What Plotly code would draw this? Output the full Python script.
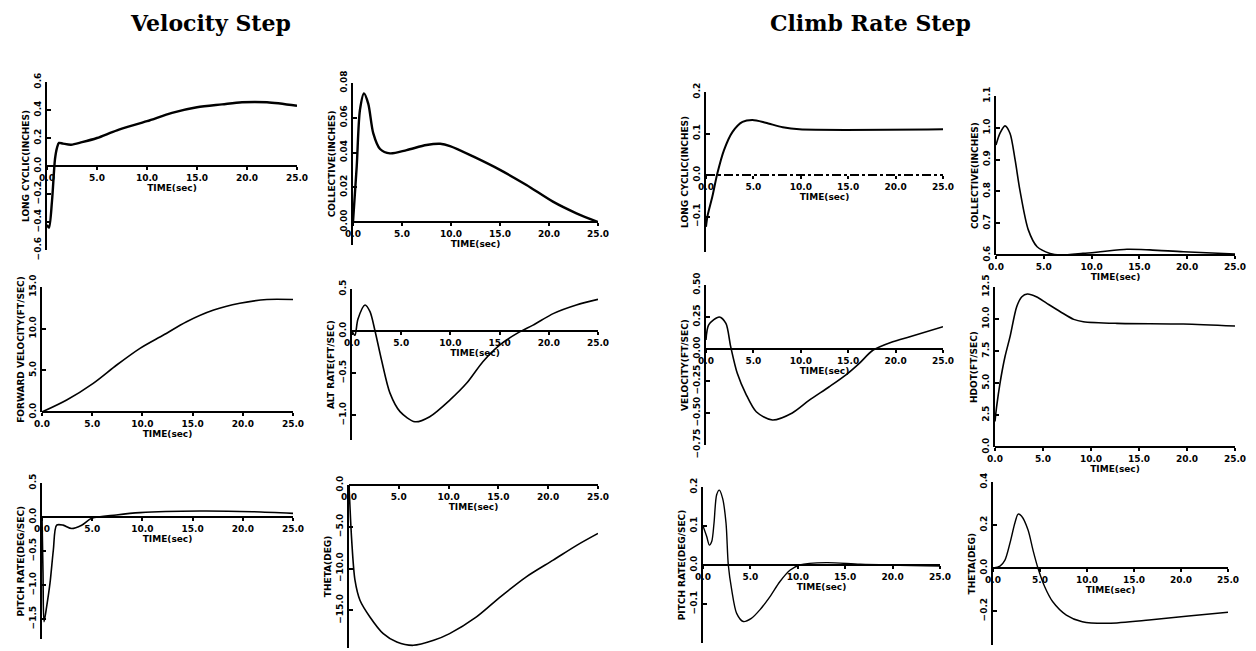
import plotly.graph_objects as go

# page has an 8px body margin: figure is sized to fit the window inside it
PAGE_W, PAGE_H = 1256, 651
OFF = 8
W, H = PAGE_W - OFF, PAGE_H - OFF

# ---------------- data ----------------
# Velocity step
vs_cyc_t = [0, 0.2, 0.5, 0.8, 1.0, 1.2, 1.6, 2.4, 3.5, 5.0, 7.0, 10.0, 12.5, 15.0, 17.5, 19.5, 22.0, 25.0]
vs_cyc_v = [-0.42, -0.44, -0.25, 0.05, 0.13, 0.165, 0.16, 0.152, 0.17, 0.20, 0.255, 0.32, 0.38, 0.42, 0.44, 0.455, 0.455, 0.43]

vs_col_t = [0, 0.38, 0.71, 1.12, 1.56, 2.07, 2.76, 3.78, 5.48, 7.5, 8.9, 9.9, 12.3, 15.0, 17.7, 20.4, 22.8, 25.0]
vs_col_v = [0, 0.032, 0.0645, 0.074, 0.068, 0.051, 0.042, 0.0395, 0.0414, 0.0443, 0.045, 0.0437, 0.0376, 0.030, 0.0213, 0.0117, 0.005, 0.0]

vs_vel_t = [0, 2.46, 5.1, 7.44, 9.76, 12.1, 14.4, 17.1, 19.7, 22.4, 25.0]
vs_vel_v = [0, 1.44, 3.44, 5.64, 7.64, 9.24, 10.84, 12.24, 13.05, 13.5, 13.5]

vs_alt_t = [0, 0.3, 0.6, 1.32, 1.83, 2.34, 3.0, 3.86, 4.88, 6.4, 7.9, 9.96, 11.66, 13.3, 15.0, 16.9, 18.4, 20.5, 22.8, 25.0]
vs_alt_v = [0, -0.05, 0.14, 0.31, 0.23, 0.0, -0.345, -0.74, -0.96, -1.08, -1.02, -0.82, -0.62, -0.365, -0.167, -0.02, 0.07, 0.21, 0.31, 0.377]

vs_q_t = [0, 0.1, 0.2, 0.46, 0.8, 1.13, 1.46, 2.1, 2.96, 3.95, 4.95, 7.4, 9.76, 15.7, 21.0, 25.0]
vs_q_v = [0, -0.82, -1.54, -1.32, -0.97, -0.485, -0.12, -0.12, -0.17, -0.12, -0.02, 0.03, 0.064, 0.088, 0.078, 0.054]

vs_th_t = [0, 0.27, 0.6, 1.1, 2.1, 3.44, 4.8, 6.45, 8.5, 10.1, 12.8, 15.2, 17.8, 20.5, 22.9, 25.0]
vs_th_v = [0, -6.6, -11.4, -13.8, -15.8, -17.8, -18.8, -19.2, -18.6, -17.8, -15.8, -13.4, -11.0, -9.0, -7.2, -5.8]

# Climb rate step
cs_cyc_t = [0, 0.15, 0.67, 1.2, 1.9, 2.8, 3.85, 4.9, 6.3, 8.1, 9.85, 25.0]
cs_cyc_v = [-0.125, -0.10, -0.052, 0.004, 0.06, 0.104, 0.128, 0.1325, 0.126, 0.115, 0.11, 0.11]

cs_col_t = [0, 0.42, 0.94, 1.46, 2.0, 2.5, 3.38, 4.3, 5.65, 6.7, 9.1, 10.9, 13.7, 16.1, 19.6, 25.0]
cs_col_v = [0.946, 0.983, 1.006, 0.983, 0.899, 0.804, 0.679, 0.626, 0.605, 0.600, 0.605, 0.61, 0.618, 0.616, 0.61, 0.603]

cs_vel_t = [0, 0.3, 1.4, 2.1, 2.6, 3.3, 4.2, 5.3, 7.0, 9.1, 10.9, 13.0, 14.8, 16.2, 17.6, 19.7, 21.5, 25.0]
cs_vel_v = [0.07, 0.19, 0.25, 0.20, 0.02, -0.19, -0.35, -0.49, -0.555, -0.50, -0.40, -0.295, -0.20, -0.11, -0.01, 0.057, 0.096, 0.174]

cs_hdot_t = [0, 0.17, 0.52, 1.04, 1.56, 2.26, 2.8, 3.37, 4.3, 5.4, 6.8, 8.2, 9.2, 12.7, 19.6, 25.0]
cs_hdot_v = [2.0, 3.15, 4.98, 7.05, 8.6, 10.96, 11.74, 11.95, 11.74, 11.22, 10.57, 9.97, 9.79, 9.66, 9.61, 9.45]

cs_q_t = [0, 0.39, 0.67, 0.92, 1.16, 1.44, 1.72, 2.07, 2.43, 2.67, 3.03, 3.55, 4.25, 5.1, 6.0, 7.07, 8.1, 9.2, 10.2, 13.0, 16.6, 25.0]
cs_q_v = [0.10, 0.073, 0.051, 0.06, 0.107, 0.18, 0.192, 0.171, 0.107, 0.0, -0.064, -0.124, -0.145, -0.137, -0.115, -0.081, -0.043, -0.013, 0.0, 0.006, 0.002, -0.003]

cs_th_t = [0, 0.74, 1.27, 1.8, 2.32, 2.67, 3.03, 3.73, 4.25, 4.78, 5.5, 6.36, 7.8, 9.5, 12.3, 16.6, 20.8, 25.0]
cs_th_v = [0, 0.009, 0.037, 0.115, 0.208, 0.251, 0.242, 0.177, 0.084, 0.0, -0.087, -0.157, -0.219, -0.25, -0.257, -0.242, -0.223, -0.206]

zero_line_t = [0, 25]
zero_line_v = [0, 0]

time_ticks = [0, 5, 10, 15, 20, 25]
time_labels = ["0.0", "5.0", "10.0", "15.0", "20.0", "25.0"]

group_titles = ["Velocity Step", "Climb Rate Step"]
y_titles = [
    "LONG CYCLIC(INCHES)", "COLLECTIVE(INCHES)",
    "FORWARD VELOCITY(FT/SEC)", "ALT RATE(FT/SEC)",
    "PITCH RATE(DEG/SEC)", "THETA(DEG)",
    "LONG CYCLIC(INCHES)", "COLLECTIVE(INCHES)",
    "VELOCITY(FT/SEC)", "HDOT(FT/SEC)",
    "PITCH RATE(DEG/SEC)", "THETA(DEG)",
]
x_title = "TIME(sec)"

series = [
    (vs_cyc_t, vs_cyc_v), (vs_col_t, vs_col_v),
    (vs_vel_t, vs_vel_v), (vs_alt_t, vs_alt_v),
    (vs_q_t, vs_q_v), (vs_th_t, vs_th_v),
    (cs_cyc_t, cs_cyc_v), (cs_col_t, cs_col_v),
    (cs_vel_t, cs_vel_v), (cs_hdot_t, cs_hdot_v),
    (cs_q_t, cs_q_v), (cs_th_t, cs_th_v),
]

# ---------------- layout of the panels (window pixels) ----------------
panels = [
    dict(x0=47, x1=297, refpx=166, refval=0, ppu=140, rng=[-0.6, 0.6], dtick=0.2, fmt=".1f", xat=0, width=2.4),
    dict(x0=353, x1=598, refpx=222, refval=0, ppu=1737.5, rng=[-0.013, 0.08], dtick=0.02, fmt=".2f", xat=0, width=2.4),
    dict(x0=42, x1=293, refpx=412, refval=0, ppu=8.333, rng=[0, 15], dtick=5, fmt=".1f", xat=0, width=1.6),
    dict(x0=352, x1=598, refpx=331, refval=0, ppu=84, rng=[-1.3, 0.5], dtick=0.5, fmt=".1f", xat=0, width=1.6),
    dict(x0=42, x1=293, refpx=517, refval=0, ppu=68, rng=[-1.8, 0.5], dtick=0.5, fmt=".1f", xat=0, width=1.6),
    dict(x0=349, x1=598, refpx=485, refval=0, ppu=8.35, rng=[-19.5, 0], dtick=5, fmt=".1f", xat=0, width=1.6),
    dict(x0=706, x1=943, refpx=175, refval=0, ppu=415, rng=[-0.185, 0.2], dtick=0.1, fmt=".1f", xat=0, width=2.0, dashzero=True),
    dict(x0=996, x1=1235, refpx=255, refval=0.6, ppu=318, rng=[0.6, 1.1], dtick=0.1, fmt=".1f", xat=0.6, width=1.6),
    dict(x0=706, x1=943, refpx=349, refval=0, ppu=128, rng=[-0.75, 0.5], dtick=0.25, fmt=".2f", xat=0, width=1.6),
    dict(x0=995, x1=1235, refpx=447, refval=0, ppu=12.8, rng=[0, 12.5], dtick=2.5, fmt=".1f", xat=0, width=1.6),
    dict(x0=703, x1=940, refpx=565, refval=0, ppu=390, rng=[-0.2, 0.2], dtick=0.1, fmt=".1f", xat=0, width=1.4),
    dict(x0=993, x1=1228, refpx=568, refval=0, ppu=215, rng=[-0.36, 0.4], dtick=0.2, fmt=".1f", xat=0, width=1.4),
]


def px_x(px):
    return (px - OFF) / W


def px_y(py):
    return 1 - (py - OFF) / H


tick_font = dict(family="DejaVu Sans", size=9, color="black", weight="bold")
title_font = dict(family="DejaVu Sans", size=9, color="black", weight="bold")

fig = go.Figure()
layout = dict(
    width=W, height=H, margin=dict(l=0, r=0, t=0, b=0, autoexpand=False),
    paper_bgcolor="white", plot_bgcolor="white", showlegend=False,
)

for i, (p, (t, v)) in enumerate(zip(panels, series), start=1):
    ytop = p["refpx"] - (p["rng"][1] - p["refval"]) * p["ppu"]
    ybot = p["refpx"] + (p["refval"] - p["rng"][0]) * p["ppu"]
    xpos = p["refpx"] - (p["xat"] - p["refval"]) * p["ppu"]
    dash = p.get("dashzero", False)
    xa = "x" if i == 1 else f"x{i}"
    ya = "y" if i == 1 else f"y{i}"
    layout["xaxis" if i == 1 else f"xaxis{i}"] = dict(
        domain=[px_x(p["x0"]), px_x(p["x1"])], range=[0, 25],
        anchor="free", position=px_y(xpos), automargin=False,
        tickvals=time_ticks, ticktext=time_labels,
        showline=not dash, linecolor="black", linewidth=2.2,
        ticks="outside", ticklen=3, tickcolor="black", tickwidth=1.5,
        showgrid=False, zeroline=False, tickfont=tick_font,
        title=dict(text=x_title, font=title_font, standoff=1),
        fixedrange=True,
    )
    layout["yaxis" if i == 1 else f"yaxis{i}"] = dict(
        domain=[px_y(ybot), px_y(ytop)], range=p["rng"], automargin=False,
        anchor=xa, dtick=p["dtick"], tick0=p["refval"], tickformat=p["fmt"],
        showline=True, linecolor="black", linewidth=2.0,
        ticks="inside", ticklen=4, tickcolor="black", tickwidth=1.5,
        tickangle=-90, showgrid=False, zeroline=False, tickfont=tick_font,
        title=dict(text=y_titles[i - 1], font=title_font, standoff=2),
        fixedrange=True,
    )
    if dash:
        fig.add_trace(go.Scatter(x=zero_line_t, y=zero_line_v, mode="lines",
                                 line=dict(color="black", width=2, dash="dashdot"),
                                 xaxis=xa, yaxis=ya, hoverinfo="skip"))
    fig.add_trace(go.Scatter(x=t, y=v, mode="lines",
                             line=dict(color="black", width=p["width"], shape="spline", smoothing=0.8),
                             xaxis=xa, yaxis=ya))

title_font_big = dict(family="DejaVu Serif", size=22, color="black", weight="bold")
layout["annotations"] = [
    dict(text=group_titles[0], x=px_x(210), y=1.0, xref="paper", yref="paper",
         showarrow=False, font=title_font_big, xanchor="center", yanchor="top"),
    dict(text=group_titles[1], x=px_x(870), y=1.0, xref="paper", yref="paper",
         showarrow=False, font=title_font_big, xanchor="center", yanchor="top"),
]
fig.update_layout(**layout)
fig.write_html("out.html")
